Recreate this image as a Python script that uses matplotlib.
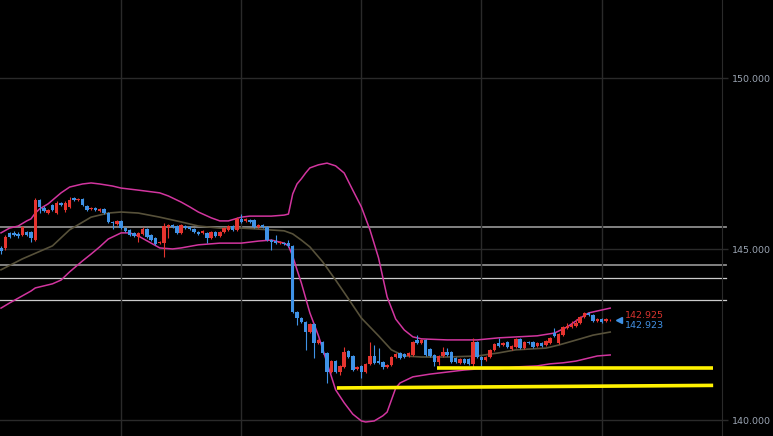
import numpy as np
import matplotlib.pyplot as plt

# candles (oldest first)
opens = [
    145.04, 145.04, 145.48, 145.48, 145.45, 145.42, 145.51, 145.51, 145.27, 146.44,
    146.21, 146.06, 146.30, 146.06, 146.35, 146.15, 146.24, 146.50, 146.44, 146.47,
    146.27, 146.18, 146.21, 146.12, 146.18, 146.06, 145.80, 145.74, 145.83, 145.62,
    145.57, 145.48, 145.36, 145.45, 145.60, 145.42, 145.33, 145.19, 145.19, 145.65,
    145.71, 145.68, 145.48, 145.68, 145.65, 145.60, 145.51, 145.48, 145.48, 145.33,
    145.51, 145.39, 145.51, 145.57, 145.68, 145.57, 145.89, 145.83, 145.86, 145.86,
    145.65, 145.71, 145.65, 145.27, 145.24, 145.18, 145.18, 145.18, 145.10, 143.17,
    142.99, 142.87, 142.58, 142.82, 142.26, 142.29, 141.97, 141.41, 141.73, 141.41,
    141.56, 142.03, 141.88, 141.50, 141.59, 141.41, 141.65, 141.88, 141.73, 141.70,
    141.56, 141.62, 141.85, 141.97, 141.94, 141.88, 141.91, 142.35, 142.26, 142.35,
    142.09, 141.91, 141.70, 141.88, 142.00, 142.00, 141.82, 141.68, 141.79, 141.79,
    141.65, 142.29, 141.85, 141.76, 141.85, 142.06, 142.26, 142.20, 142.29, 142.09,
    142.14, 142.38, 142.11, 142.29, 142.29, 142.17, 142.26, 142.20, 142.26, 142.55,
    142.26, 142.49, 142.70, 142.73, 142.76, 142.85, 143.02, 143.14, 143.08, 142.90,
    142.96, 142.90, 142.92,
]
highs = [
    145.10, 145.42, 145.51, 145.54, 145.51, 145.68, 145.54, 145.54, 146.50, 146.47,
    146.27, 146.18, 146.33, 146.41, 146.38, 146.41, 146.53, 146.53, 146.50, 146.50,
    146.30, 146.24, 146.24, 146.21, 146.21, 146.09, 145.83, 145.86, 145.86, 145.65,
    145.60, 145.51, 145.51, 145.65, 145.63, 145.45, 145.36, 145.24, 145.77, 145.74,
    145.74, 145.71, 145.74, 145.71, 145.68, 145.63, 145.54, 145.57, 145.51, 145.54,
    145.54, 145.54, 145.65, 145.71, 145.71, 145.94, 146.03, 145.92, 145.89, 145.89,
    145.74, 145.74, 145.68, 145.30, 145.42, 145.24, 145.21, 145.27, 145.13, 143.20,
    143.02, 142.90, 142.85, 142.85, 142.38, 142.32, 142.00, 141.76, 141.76, 141.62,
    142.14, 142.06, 141.91, 141.59, 141.62, 141.68, 142.29, 142.20, 142.11, 141.73,
    141.65, 141.88, 141.97, 142.00, 141.97, 142.00, 142.32, 142.49, 142.38, 142.38,
    142.12, 141.94, 141.91, 142.14, 142.11, 142.03, 141.85, 141.82, 141.82, 141.82,
    142.41, 142.32, 141.88, 141.88, 142.09, 142.26, 142.41, 142.29, 142.32, 142.20,
    142.41, 142.41, 142.32, 142.32, 142.32, 142.29, 142.29, 142.35, 142.44, 142.70,
    142.55, 142.76, 142.85, 142.90, 142.96, 143.05, 143.17, 143.17, 143.11, 142.99,
    142.99, 142.99, 142.95,
]
lows = [
    144.86, 144.98, 145.33, 145.39, 145.33, 145.39, 145.39, 145.21, 145.24, 146.06,
    146.09, 146.03, 146.12, 146.03, 146.27, 146.09, 146.21, 146.41, 146.41, 146.27,
    146.12, 146.15, 146.12, 146.09, 146.03, 145.77, 145.59, 145.71, 145.59, 145.51,
    145.39, 145.36, 145.21, 145.42, 145.33, 145.24, 145.13, 145.16, 144.78, 145.33,
    145.62, 145.45, 145.45, 145.60, 145.57, 145.48, 145.42, 145.45, 145.18, 145.30,
    145.36, 145.36, 145.48, 145.54, 145.54, 145.54, 145.77, 145.80, 145.77, 145.62,
    145.62, 145.62, 145.24, 144.98, 145.16, 145.16, 145.13, 145.07, 143.14, 142.79,
    142.84, 142.06, 142.55, 141.82, 142.23, 141.94, 141.09, 141.38, 141.38, 141.33,
    141.53, 141.82, 141.44, 141.47, 141.24, 141.38, 141.62, 141.65, 141.65, 141.50,
    141.53, 141.59, 141.82, 141.79, 141.82, 141.85, 141.88, 142.23, 142.23, 141.88,
    141.85, 141.59, 141.62, 141.85, 141.88, 141.67, 141.67, 141.65, 141.65, 141.62,
    141.53, 141.82, 141.59, 141.73, 141.82, 142.03, 142.14, 142.17, 142.11, 142.06,
    142.11, 142.09, 142.09, 142.23, 142.11, 142.14, 142.14, 142.17, 142.23, 142.44,
    142.23, 142.46, 142.67, 142.70, 142.73, 142.82, 142.99, 143.05, 142.87, 142.87,
    142.84, 142.87, 142.90,
]
closes = [
    144.95, 145.36, 145.36, 145.42, 145.39, 145.65, 145.42, 145.33, 146.44, 146.24,
    146.12, 146.15, 146.15, 146.35, 146.30, 146.35, 146.44, 146.44, 146.47, 146.30,
    146.15, 146.21, 146.15, 146.18, 146.06, 145.80, 145.77, 145.83, 145.62, 145.54,
    145.42, 145.39, 145.48, 145.60, 145.36, 145.27, 145.16, 145.21, 145.68, 145.71,
    145.65, 145.48, 145.71, 145.62, 145.60, 145.51, 145.45, 145.54, 145.33, 145.51,
    145.39, 145.51, 145.62, 145.68, 145.57, 145.89, 145.80, 145.89, 145.80, 145.65,
    145.71, 145.65, 145.27, 145.21, 145.18, 145.21, 145.16, 145.10, 143.17, 142.99,
    142.87, 142.58, 142.82, 142.26, 142.35, 141.97, 141.41, 141.73, 141.41, 141.59,
    142.00, 141.85, 141.47, 141.56, 141.41, 141.65, 141.88, 141.68, 141.68, 141.56,
    141.62, 141.85, 141.94, 141.82, 141.85, 141.97, 142.29, 142.26, 142.35, 141.91,
    141.88, 141.70, 141.88, 142.00, 141.91, 141.70, 141.70, 141.79, 141.68, 141.65,
    142.29, 141.85, 141.76, 141.85, 142.06, 142.23, 142.17, 142.26, 142.14, 142.17,
    142.38, 142.11, 142.29, 142.26, 142.14, 142.26, 142.17, 142.32, 142.41, 142.47,
    142.52, 142.73, 142.76, 142.79, 142.85, 143.02, 143.14, 143.08, 142.90, 142.96,
    142.87, 142.96, 142.925,
]

# bollinger bands, sampled at candle indices
upper_idx = [0, 2, 4, 6, 7, 8, 9, 11, 14, 16, 19, 21, 23, 26, 28, 32, 37, 39, 42, 44,
             46, 49, 51, 53, 56, 58, 63, 66, 67, 68, 69, 70, 71, 72, 74, 76, 78, 80, 82,
             84, 86, 88, 90, 92, 94, 96, 98, 104, 111, 116, 125, 129, 132, 135, 137, 142]
upper_val = [145.48, 145.62, 145.68, 145.83, 145.89, 146.06, 146.18, 146.33, 146.65, 146.82,
             146.91, 146.94, 146.91, 146.85, 146.79, 146.73, 146.65, 146.56, 146.38, 146.24,
             146.09, 145.92, 145.83, 145.83, 145.94, 145.97, 145.97, 146.00, 146.03, 146.62,
             146.91, 147.06, 147.23, 147.38, 147.47, 147.52, 147.44, 147.23, 146.73, 146.24,
             145.57, 144.75, 143.61, 142.96, 142.64, 142.44, 142.38, 142.35, 142.35, 142.41,
             142.47, 142.55, 142.73, 142.99, 143.14, 143.28]
mid_idx = [0, 5, 12, 16, 21, 25, 28, 32, 37, 42, 46, 51, 56, 60, 66, 68, 70, 72, 75, 78,
           81, 84, 88, 91, 94, 98, 104, 111, 116, 120, 127, 130, 135, 138, 142]
mid_val = [144.40, 144.72, 145.10, 145.57, 145.94, 146.06, 146.09, 146.06, 145.94, 145.80,
           145.68, 145.62, 145.62, 145.59, 145.54, 145.45, 145.27, 145.07, 144.63, 144.10,
           143.55, 142.99, 142.47, 142.06, 141.88, 141.85, 141.85, 141.88, 141.97, 142.06,
           142.11, 142.20, 142.38, 142.49, 142.58]
lower_idx = [0, 2, 5, 7, 8, 12, 14, 16, 19, 21, 23, 25, 28, 30, 32, 35, 37, 40, 42, 46,
             51, 56, 60, 63, 66, 67, 68, 69, 70, 72, 74, 76, 78, 80, 82, 84, 85, 87, 89,
             90, 91, 92, 93, 96, 100, 104, 108, 111, 116, 120, 125, 128, 131, 134, 137, 139, 142]
lower_val = [143.28, 143.43, 143.64, 143.78, 143.87, 143.99, 144.10, 144.34, 144.66, 144.86,
             145.07, 145.30, 145.48, 145.48, 145.39, 145.18, 145.04, 145.01, 145.04, 145.13,
             145.18, 145.18, 145.24, 145.27, 145.18, 145.10, 144.80, 144.40, 144.02, 143.14,
             142.47, 141.68, 140.89, 140.51, 140.18, 139.98, 139.95, 139.98, 140.13, 140.24,
             140.59, 140.94, 141.09, 141.27, 141.35, 141.41, 141.47, 141.50, 141.50, 141.56,
             141.59, 141.65, 141.68, 141.73, 141.82, 141.88, 141.91]

# drawn levels
gray_levels = [145.66, 144.54]
white_levels = [144.15, 143.52]
yellow_x0 = [101.6, 78.3]
yellow_x1 = [166.0, 166.0]
yellow_y0 = [141.52, 140.945]
yellow_y1 = [141.52, 141.02]

ask_price = 142.925
bid_price = 142.923
price_ticks = [140, 145, 150]
time_grid = [28, 56, 84, 112, 140]

UP = "#e5342f"
DOWN = "#3f92e6"
BAND = "#d2359f"
MID = "#57513a"
GRID = "#2a2a2a"
LABEL = "#9aa4b2"

fig = plt.figure(figsize=(7.73, 4.36), dpi=100, facecolor="black")
ax = fig.add_axes([0, 0, 722 / 773, 1])
ax.set_facecolor("black")

o = np.array(opens)
h = np.array(highs)
l = np.array(lows)
c = np.array(closes)
x = np.arange(len(c))
up = c >= o
colors = np.where(up, UP, DOWN)

ax.vlines(x, l, h, colors=colors, lw=0.8, zorder=3)
body = np.maximum(np.abs(c - o), 0.015)
ax.bar(x, body, bottom=np.minimum(o, c), width=0.8, color=colors,
       linewidth=0, zorder=4)

ax.plot(upper_idx, upper_val, color=BAND, lw=1.1, zorder=2)
ax.plot(lower_idx, lower_val, color=BAND, lw=1.1, zorder=2)
ax.plot(mid_idx, mid_val, color=MID, lw=1.2, zorder=2)

xmin, xmax = -0.23, 168.06
for lv in gray_levels:
    ax.plot([xmin, 169.0], [lv, lv], color="#8c8c8c", lw=1.3, clip_on=False, zorder=1)
for lv in white_levels:
    ax.plot([xmin, 169.0], [lv, lv], color="#cccccc", lw=0.9, clip_on=False, zorder=1)
for x0, x1, y0, y1 in zip(yellow_x0, yellow_x1, yellow_y0, yellow_y1):
    ax.plot([x0, x1], [y0, y1], color="#fff200", lw=2.6, solid_capstyle="butt", zorder=5)

ax.plot([144.1], [ask_price], marker="<", color=DOWN, ms=4, lw=0, zorder=6)
ax.annotate(f"{ask_price:.3f}", (144.1, ask_price), xytext=(6, 5),
            textcoords="offset pixels", color="#d8332d", fontsize=6.8, va="center")
ax.annotate(f"{bid_price:.3f}", (144.1, bid_price), xytext=(6, -5),
            textcoords="offset pixels", color=DOWN, fontsize=6.8, va="center")

ax.set_xlim(xmin, xmax)
ax.set_ylim(139.54, 152.29)
ax.set_xticks(time_grid)
ax.set_xticklabels([])
ax.tick_params(axis="x", length=0)
ax.set_yticks(price_ticks)
ax.set_yticklabels([f"{t:.3f}" for t in price_ticks])
ax.yaxis.tick_right()
ax.tick_params(axis="y", length=4, width=1, color=GRID, labelcolor=LABEL,
               labelsize=6.8, pad=3)
ax.grid(True, color=GRID, lw=1, zorder=0)
for side in ["top", "left", "bottom"]:
    ax.spines[side].set_visible(False)
ax.spines["right"].set_color(GRID)

fig.savefig("out.png", dpi=100, facecolor="black")
